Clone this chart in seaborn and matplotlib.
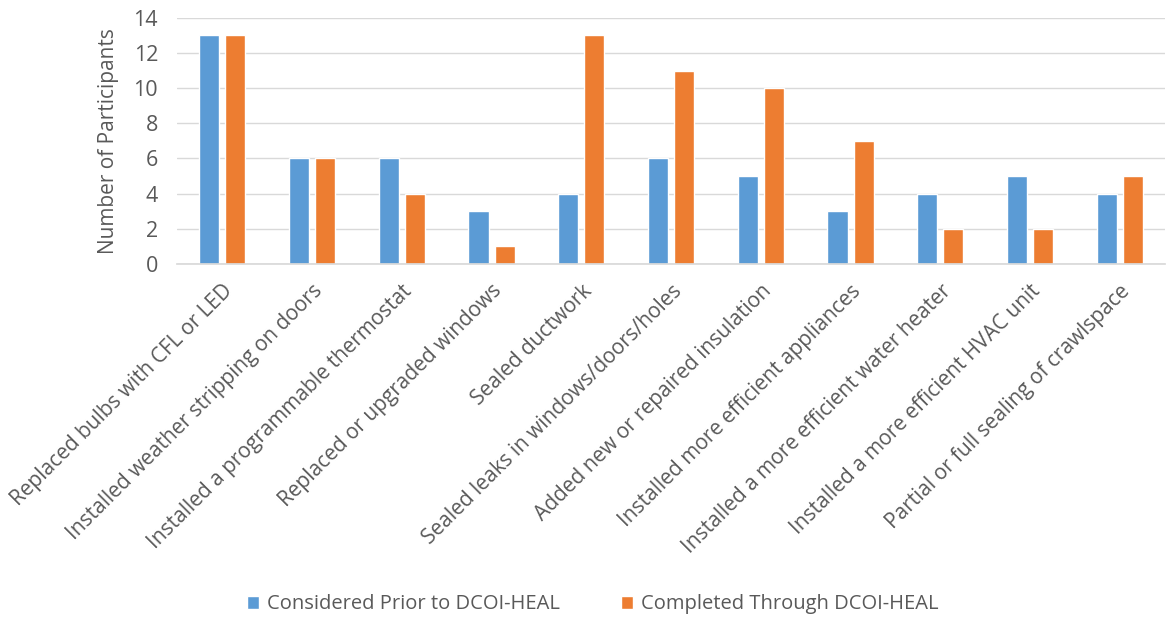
import matplotlib
matplotlib.use("Agg")
import matplotlib.pyplot as plt
import seaborn as sns
import pandas as pd

categories = [
    "Replaced bulbs with CFL or LED",
    "Installed weather stripping on doors",
    "Installed a programmable thermostat",
    "Replaced or upgraded windows",
    "Sealed ductwork",
    "Sealed leaks in windows/doors/holes",
    "Added new or repaired insulation",
    "Installed more efficient appliances",
    "Installed a more efficient water heater",
    "Installed a more efficient HVAC unit",
    "Partial or full sealing of crawlspace",
]
considered = [13, 6, 6, 3, 4, 6, 5, 3, 4, 5, 4]
completed = [13, 6, 4, 1, 13, 11, 10, 7, 2, 2, 5]
series_names = ["Considered Prior to DCOI-HEAL", "Completed Through DCOI-HEAL"]
yticks = [0, 2, 4, 6, 8, 10, 12, 14]

df = pd.DataFrame({
    "category": categories * 2,
    "value": considered + completed,
    "series": [series_names[0]] * len(categories) + [series_names[1]] * len(categories),
})

sns.set_theme(style="white")
plt.rcParams["font.family"] = ["Open Sans", "DejaVu Sans"]
text_color = "#595959"

fig = plt.figure(figsize=(11.67, 6.18), dpi=100)
ax = fig.add_axes([0.152, 0.573, 0.846, 0.398])

sns.barplot(
    data=df, x="category", y="value", hue="series",
    palette=["#5B9BD5", "#ED7D31"], width=0.58, gap=0.23,
    ax=ax, legend=True, saturation=1,
)

ax.set_ylim(0, 14)
ax.set_yticks(yticks)
ax.set_yticklabels([str(v) for v in yticks], fontsize=15.5, color=text_color)
ax.yaxis.grid(True, color="#D9D9D9", linewidth=1)
ax.set_axisbelow(True)
for side in ["left", "right", "top"]:
    ax.spines[side].set_visible(False)
ax.spines["bottom"].set_color("#D9D9D9")
ax.tick_params(axis="both", length=0)
ax.tick_params(axis="y", pad=14)
ax.set_xlim(-0.5, len(categories) - 0.5)

ax.set_xticks(range(len(categories)))
ax.set_xticklabels(categories, rotation=45, ha="right", rotation_mode="anchor",
                   fontsize=15, color=text_color)
ax.tick_params(axis="x", pad=12)
ax.set_xlabel("")
ax.set_ylabel("Number of Participants", fontsize=15, color=text_color, labelpad=10)

handles, labels = ax.get_legend_handles_labels()
ax.legend_.remove()
fig.legend(handles, labels, loc="center", bbox_to_anchor=(0.508, 0.022), ncol=2,
           frameon=False, fontsize=14.5, handlelength=0.6, handleheight=0.6,
           columnspacing=3.0, handletextpad=0.4, labelcolor=text_color)

fig.savefig("out.png", dpi=100)
